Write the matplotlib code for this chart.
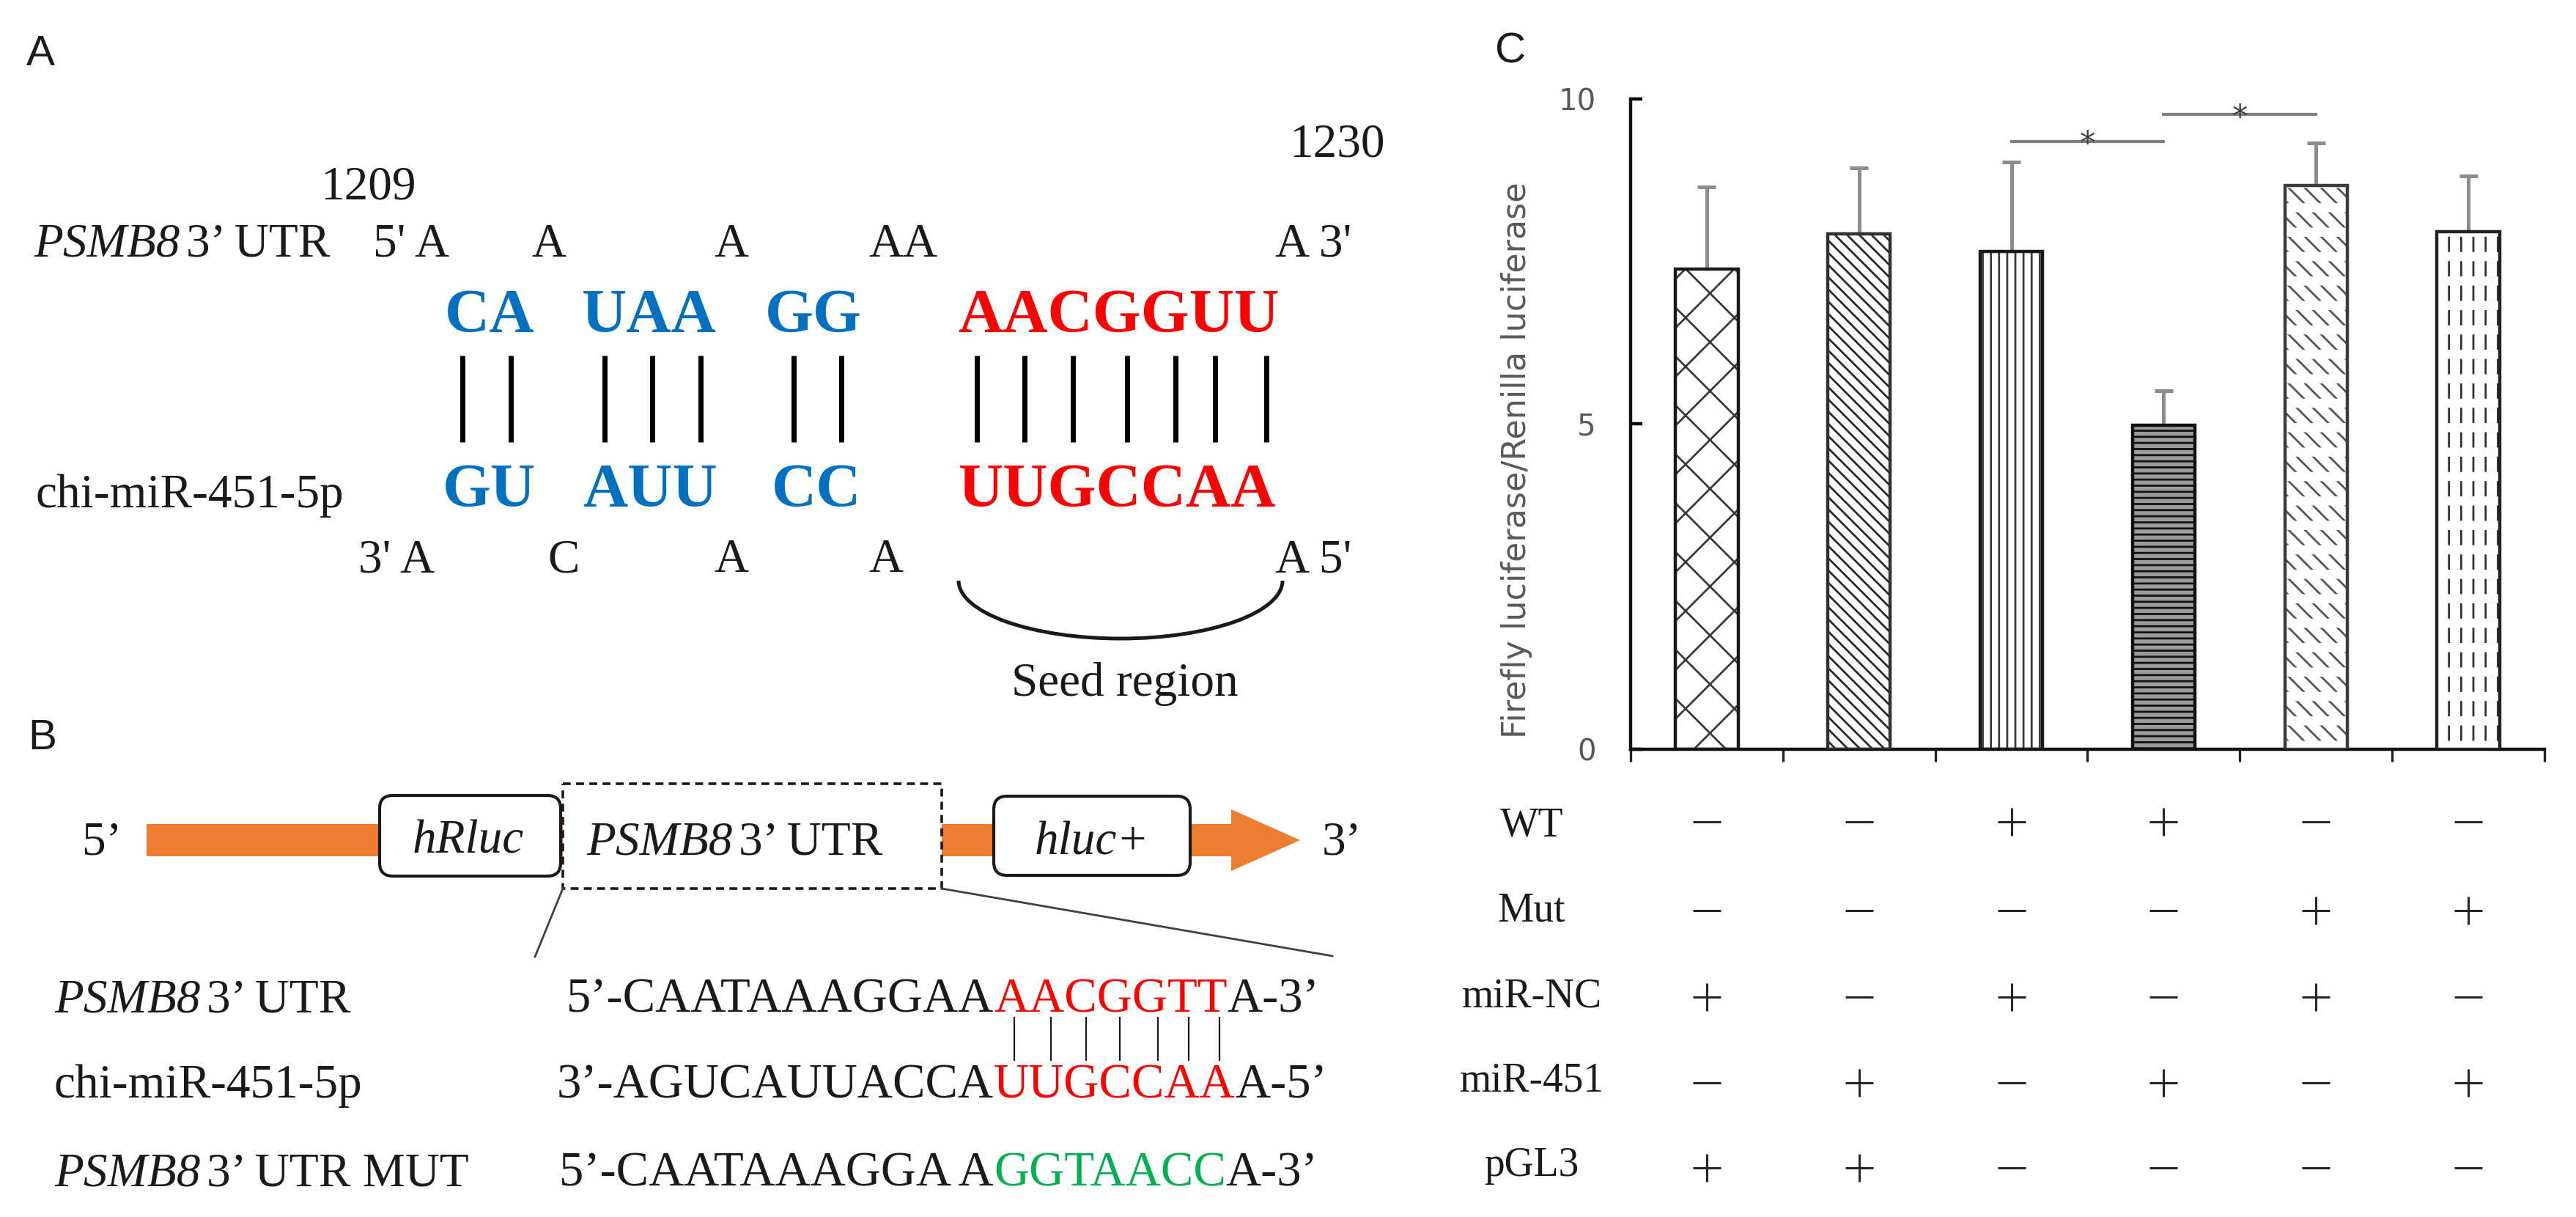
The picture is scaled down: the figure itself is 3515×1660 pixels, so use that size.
import numpy as np
import matplotlib
matplotlib.use("Agg")
import matplotlib.pyplot as plt
from matplotlib import transforms
from matplotlib.patches import Rectangle, FancyBboxPatch, Arc, Polygon

# ---------------- data ----------------
site_start = "1209"
site_end = "1230"
target_gene = "PSMB8"
mirna = "chi-miR-451-5p"
target_paired = ["CA", "UAA", "GG", "AACGGUU"]
mirna_paired = ["GU", "AUU", "CC", "UUGCCAA"]
paired_colors = ["#0070C0", "#0070C0", "#0070C0", "#FF0000"]
target_unpaired = ["5' A", "A", "A", "AA", "A 3'"]
mirna_unpaired = ["3' A", "C", "A", "A", "A 5'"]
seed_label = "Seed region"

construct_parts = ["hRluc", "hluc+"]
seq_row_italic = ["PSMB8", "", "PSMB8"]
seq_row_plain = ["3’ UTR", "chi-miR-451-5p", "3’ UTR MUT"]
seq_prefix = ["5’-CAATAAAGGAA", "3’-AGUCAUUACCA", "5’-CAATAAAGGA A"]
seq_site = ["AACGGTT", "UUGCCAA", "GGTAACC"]
seq_suffix = ["A-3’", "A-5’", "A-3’"]
seq_site_colors = ["#FF0000", "#FF0000", "#00B050"]

row_labels = ["WT", "Mut", "miR-NC", "miR-451", "pGL3"]
design = [[0, 0, 1, 1, 0, 0],
          [0, 0, 0, 0, 1, 1],
          [1, 0, 1, 0, 1, 0],
          [0, 1, 0, 1, 0, 1],
          [1, 1, 0, 0, 0, 0]]
ratio_mean = [7.38, 7.93, 7.66, 4.98, 8.67, 7.96]
ratio_err = [1.27, 1.01, 1.37, 0.53, 0.65, 0.86]
y_ticks = [0, 5, 10]
y_label = "Firefly luciferase/Renilla luciferase"
sig_pairs = [(2, 3), (3, 4)]
sig_heights = [9.35, 9.76]
sig_marks = ["*", "*"]

# ---------------- figure ----------------
W, H, DPI = 3516, 1660, 200
fig = plt.figure(figsize=(W / DPI, H / DPI), dpi=DPI, facecolor="white")
ax0 = fig.add_axes([0, 0, 1, 1])
ax0.set_xlim(0, W)
ax0.set_ylim(H, 0)
ax0.axis("off")

SERIF = ["Liberation Serif", "DejaVu Serif"]
SANS = ["Liberation Sans", "DejaVu Sans"]
K = "#1a1a1a"


def t(x, y, s, size=23.5, ha="left", va="baseline", **kw):
    kw.setdefault("family", SERIF)
    kw.setdefault("color", K)
    return ax0.text(x, y, s, fontsize=size, ha=ha, va=va, **kw)


def after(prev, y, s, gap=3, size=23.5, **kw):
    """Place text right after a previous text artist, on baseline y."""
    kw.setdefault("family", SERIF)
    kw.setdefault("color", K)
    return ax0.annotate(s, xy=(1, y), xycoords=(prev, "data"), xytext=(gap, 0),
                        textcoords="offset points", ha="left", va="baseline",
                        fontsize=size, **kw)


# panel letters
t(36, 89, "A", size=21, family=SANS)
t(38, 1022, "B", size=21, family=SANS)
t(2040, 86, "C", size=21, family=SANS)

# ---------------- panel A ----------------
t(503, 271, site_start, ha="center")
t(1825, 214, site_end, ha="center")
g = t(46, 350, target_gene, style="italic")
after(g, 350, "3’ UTR", gap=3)
for s, x in zip(target_unpaired, [561, 749, 998, 1233, 1792]):
    t(x, 350, s, ha="center")
t(49, 692, mirna)
for s, x in zip(mirna_unpaired, [541, 769, 998, 1209, 1792]):
    t(x, 780, s, ha="center")
for s, c, x in zip(target_paired, paired_colors, [668, 886, 1110, 1526]):
    t(x, 453, s, size=30.5, weight="bold", color=c, ha="center")
for s, c, x in zip(mirna_paired, paired_colors, [668, 887, 1114, 1525]):
    t(x, 691, s, size=30.5, weight="bold", color=c, ha="center")
pair_x = [631, 697, 825, 890, 956, 1083, 1148, 1333, 1398, 1464, 1538, 1604, 1658, 1728]
ax0.vlines(pair_x, 485, 603, color="black", lw=2.5)
ax0.add_patch(Arc((1529, 792), 442, 158, theta1=0, theta2=180, lw=1.8, color=K))
t(1535, 949, seed_label, ha="center")

# ---------------- panel B ----------------
orange = "#ED7D31"
ax0.add_patch(Rectangle((200, 1124), 1480, 44, fc=orange, ec="none"))
ax0.add_patch(Polygon([[1680, 1104], [1774, 1146], [1680, 1188]], closed=True, fc=orange, ec="none"))
ax0.add_patch(FancyBboxPatch((518, 1085), 247, 110, boxstyle="round,pad=0,rounding_size=18",
                             fc="white", ec=K, lw=1.5))
ax0.add_patch(FancyBboxPatch((1356, 1086), 268, 108, boxstyle="round,pad=0,rounding_size=18",
                             fc="white", ec=K, lw=1.5))
ax0.add_patch(Rectangle((768, 1069), 517, 143, fc="white", ec=K, lw=1.3, ls=(0, (3, 2))))
t(639, 1163, construct_parts[0], style="italic", ha="center")
g = t(800, 1165, target_gene, style="italic")
after(g, 1165, "3’ UTR", gap=3)
t(1490, 1165, construct_parts[1], style="italic", ha="center")
t(112, 1165, "5’")
t(1804, 1165, "3’")
ax0.plot([768, 730], [1212, 1305], color="#404040", lw=1.0)
ax0.plot([1285, 1818], [1212, 1304], color="#404040", lw=1.0)

for r, yb in enumerate([1380, 1497, 1617]):
    if seq_row_italic[r]:
        g = t(74, yb, seq_row_italic[r], style="italic")
        after(g, yb, seq_row_plain[r], gap=3)
    else:
        t(74, yb, seq_row_plain[r])
    t(1356, yb, seq_prefix[r], size=24, ha="right")
    s_txt = t(1356, yb, seq_site[r], size=24, color=seq_site_colors[r])
    after(s_txt, yb, seq_suffix[r], gap=0, size=24)
ax0.vlines([1384, 1434, 1482, 1528, 1580, 1622, 1664], 1387, 1447, color=K, lw=0.8)

# ---------------- panel C ----------------
axC = fig.add_axes([2225 / W, 1 - 1022 / H, (3472 - 2225) / W, (1022 - 135) / H])
axC.patch.set_alpha(0)
x = np.arange(len(ratio_mean))
axC.set_xlim(-0.5, len(ratio_mean) - 0.5)
axC.set_ylim(0, 10)
for side in ["top", "right"]:
    axC.spines[side].set_visible(False)
for side in ["left", "bottom"]:
    axC.spines[side].set_linewidth(1.6)
    axC.spines[side].set_color("#111111")
axC.set_yticks(y_ticks)
axC.tick_params(axis="y", direction="in", length=5.8, width=1.6, labelsize=14.5,
                labelcolor="#595959", pad=17)
for lab in axC.get_yticklabels():
    lab.set_family(["DejaVu Sans"])
axC.set_xticks(np.arange(-0.5, len(ratio_mean), 1.0))
axC.set_xticklabels([])
axC.tick_params(axis="x", direction="out", length=6, width=1.2, color="#222222")

styles = [
    dict(h="x", hc="#3a3a3a", fc="white", ec="#1a1a1a", brk=False),
    dict(h="\\\\\\\\", hc="#2a2a2a", fc="white", ec="#303030", brk=False),
    dict(h="|||", hc="#3a3a3a", fc="white", ec="#1a1a1a", brk=False),
    dict(h="----", hc="#111111", fc="#9b9b9b", ec="#111111", brk=False),
    dict(h="\\\\\\", hc="#555555", fc="white", ec="#3c3c3c", brk=True),
    dict(h="||", hc="#333333", fc="white", ec="#222222", brk=True),
]
bw = 0.41
for i, (m, st) in enumerate(zip(ratio_mean, styles)):
    axC.bar(i, m, bw, color=st["fc"], lw=0, zorder=2)
    axC.bar(i, m, bw, color="none", edgecolor=st["hc"], lw=0, hatch=st["h"], zorder=3)
    if st["brk"]:
        ov = axC.bar(i, m, bw, color="none", edgecolor="white", lw=0, hatch="-", zorder=4)
        for p in ov.patches:
            if hasattr(p, "set_hatch_linewidth"):
                p.set_hatch_linewidth(4.5)
    axC.bar(i, m, bw, fill=False, edgecolor=st["ec"], lw=1.6, zorder=5)

top = np.array(ratio_mean) + np.array(ratio_err)
axC.vlines(x, ratio_mean, top, color="#8c8c8c", lw=1.8, zorder=1)
axC.hlines(top, x - 0.06, x + 0.06, color="#8c8c8c", lw=1.8, zorder=1)

for (a, b), hgt, mk in zip(sig_pairs, sig_heights, sig_marks):
    axC.plot([a, b], [hgt, hgt], color="#7f7f7f", lw=1.5, clip_on=False, zorder=6)
    axC.text((a + b) / 2, hgt - 0.05, mk, ha="center", va="center", fontsize=15.5,
             color="#404040", family=["DejaVu Sans"], zorder=6)

fig.text(2070 / W, 1 - 628 / H, y_label, rotation=90, ha="center", va="center",
         fontsize=16, color="#595959", family=["DejaVu Sans"])

# design table
tr = transforms.blended_transform_factory(axC.transData, ax0.transData)
row_center = [1121, 1242, 1360, 1477, 1593]
row_base = [1140, 1256, 1373, 1488, 1604]
for r, lab in enumerate(row_labels):
    t(2090, row_base[r], lab, size=20, ha="center")
    for i, v in enumerate(design[r]):
        ax0.plot(i, row_center[r], marker="+" if v else "_", ms=13.7, mew=1.1,
                 color="#262626", transform=tr, clip_on=False, linestyle="none")

fig.savefig("out.png", dpi=DPI, facecolor="white")
